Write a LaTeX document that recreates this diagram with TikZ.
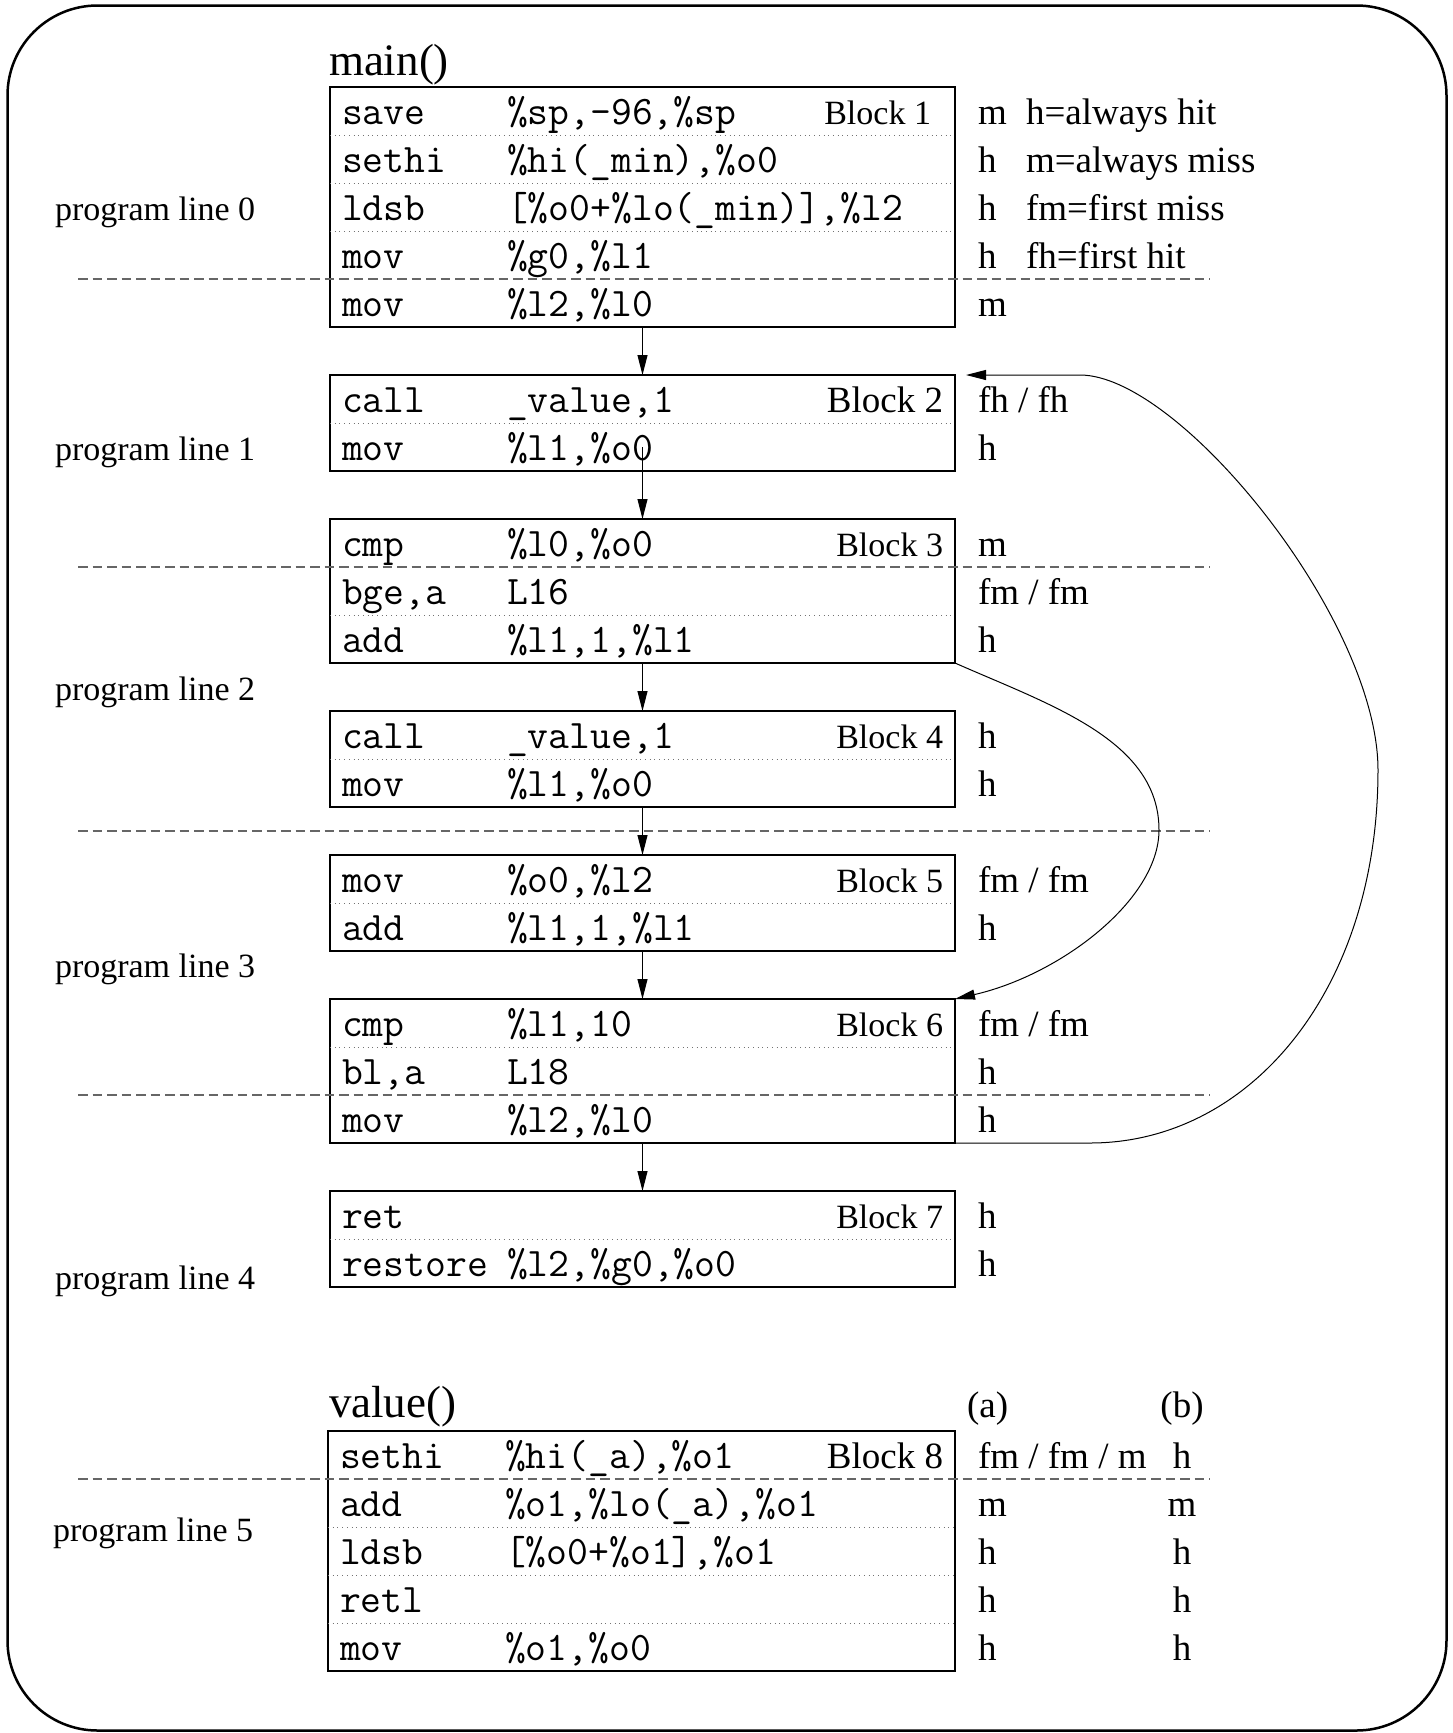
\documentclass[tikz,border=0pt]{standalone}
\usepackage{fontspec}
\setmainfont{Liberation Serif}
\usetikzlibrary{arrows.meta,calc}

% type sizes (picture is drawn at 1pt per unit)
\newcommand\plfont{\fontsize{34}{40}\selectfont}
\newcommand\colfont{\fontsize{37}{44}\selectfont}
\newcommand\titfont{\fontsize{45}{54}\selectfont}
\newcommand\codefont{\ttfamily\fontsize{40.5}{47}\selectfont}

% one instruction: name, x, baseline, opcode, operands
\newcommand\asmrow[5]{%
  \node[opcode] (#1op) at (#2,#3) {#4};
  \node[operand] (#1arg) at (#2+165,#3) {#5};}

\begin{document}
\begin{tikzpicture}[x=1pt,y=-1pt,
  every node/.style={inner sep=0pt,outer sep=0pt},
  blockbox/.style={draw,line width=1.2pt,anchor=north west,minimum width=625pt},
  opcode/.style={anchor=base west,font=\codefont},
  operand/.style={anchor=base west,font=\codefont},
  blocktag/.style={anchor=base east,font=\plfont},
  bigblocktag/.style={anchor=base east,font=\colfont},
  hitlbl/.style={anchor=base west,font=\colfont},
  hitlblc/.style={anchor=base,font=\colfont},
  sidelbl/.style={anchor=base west,font=\plfont},
  fnhead/.style={anchor=base west,font=\titfont},
  rowsep/.style={line width=0.9pt,black!55,dash pattern=on 1pt off 3.7pt},
  linesep/.style={line width=1.4pt,black!60,dash pattern=on 9.5pt off 5pt},
  flowarrow/.style={line width=1pt,-{Triangle[length=20pt,width=10pt]}},
  outerframe/.style={line width=2.5pt,rounded corners=90pt}]

\useasboundingbox (0,0) rectangle (1453,1733);
\draw[outerframe] (7.5,5.5) rectangle (1446.5,1730.5);

% ---------- main() ----------
\node[fnhead] (mainhd) at (329,75) {main()};

\node[blockbox,minimum height=240pt] (b1) at (330,87) {};
\node[blockbox,minimum height=96pt]  (b2) at (330,375) {};
\node[blockbox,minimum height=144pt] (b3) at (330,519) {};
\node[blockbox,minimum height=96pt]  (b4) at (330,711) {};
\node[blockbox,minimum height=96pt]  (b5) at (330,855) {};
\node[blockbox,minimum height=144pt] (b6) at (330,999) {};
\node[blockbox,minimum height=96pt]  (b7) at (330,1191) {};

% dotted separators between instructions
\foreach \k in {1,2,3}
  \draw[rowsep] ($(b1.north west)+(0,48*\k)$) -- ($(b1.north east)+(0,48*\k)$);
\foreach \b in {b2,b4,b5,b7,b6}
  \draw[rowsep] ($(\b.north west)+(0,48)$) -- ($(\b.north east)+(0,48)$);
\draw[rowsep] ($(b3.north west)+(0,96)$) -- ($(b3.north east)+(0,96)$);

% block 1
\asmrow{b1r0}{342}{124}{save}{\%sp,-96,\%sp}
\asmrow{b1r1}{342}{172}{sethi}{\%hi(\_min),\%o0}
\asmrow{b1r2}{342}{220}{ldsb}{[\%o0+\%lo(\_min)],\%l2}
\asmrow{b1r3}{342}{268}{mov}{\%g0,\%l1}
\asmrow{b1r4}{342}{316}{mov}{\%l2,\%l0}
\node[blocktag] (b1tag) at (931,124) {Block 1};

% block 2
\asmrow{b2r0}{342}{412}{call}{\_value,1}
\asmrow{b2r1}{342}{460}{mov}{\%l1,\%o0}
\node[bigblocktag] (b2tag) at (943,412) {Block 2};

% block 3
\asmrow{b3r0}{342}{556}{cmp}{\%l0,\%o0}
\asmrow{b3r1}{342}{604}{bge,a}{L16}
\asmrow{b3r2}{342}{652}{add}{\%l1,1,\%l1}
\node[blocktag] (b3tag) at (943,556) {Block 3};

% block 4
\asmrow{b4r0}{342}{748}{call}{\_value,1}
\asmrow{b4r1}{342}{796}{mov}{\%l1,\%o0}
\node[blocktag] (b4tag) at (943,748) {Block 4};

% block 5
\asmrow{b5r0}{342}{892}{mov}{\%o0,\%l2}
\asmrow{b5r1}{342}{940}{add}{\%l1,1,\%l1}
\node[blocktag] (b5tag) at (943,892) {Block 5};

% block 6
\asmrow{b6r0}{342}{1036}{cmp}{\%l1,10}
\asmrow{b6r1}{342}{1084}{bl,a}{L18}
\asmrow{b6r2}{342}{1132}{mov}{\%l2,\%l0}
\node[blocktag] (b6tag) at (943,1036) {Block 6};

% block 7
\node[opcode] (b7r0op) at (342,1228) {ret};
\asmrow{b7r1}{342}{1276}{restore}{\%l2,\%g0,\%o0}
\node[blocktag] (b7tag) at (943,1228) {Block 7};

% ---------- value() ----------
\node[fnhead] (valuehd) at (329,1417) {value()};
\node[hitlbl] (cola) at (967,1417) {(a)};
\node[hitlblc] (colb) at (1182,1417) {(b)};

\node[blockbox,minimum width=627pt,minimum height=240pt] (b8) at (328,1431) {};
\foreach \k in {2,3,4}
  \draw[rowsep] ($(b8.north west)+(0,48*\k)$) -- ($(b8.north east)+(0,48*\k)$);
\asmrow{b8r0}{340}{1468}{sethi}{\%hi(\_a),\%o1}
\asmrow{b8r1}{340}{1516}{add}{\%o1,\%lo(\_a),\%o1}
\asmrow{b8r2}{340}{1564}{ldsb}{[\%o0+\%o1],\%o1}
\node[opcode] (b8r3op) at (340,1612) {retl};
\asmrow{b8r4}{340}{1660}{mov}{\%o1,\%o0}
\node[bigblocktag] (b8tag) at (943,1468) {Block 8};

% ---------- hit / miss classification ----------
\node[hitlbl] (s10) at (978,124) {m};
\node[hitlbl] (s11) at (978,172) {h};
\node[hitlbl] (s12) at (978,220) {h};
\node[hitlbl] (s13) at (978,268) {h};
\node[hitlbl] (s14) at (978,316) {m};
\node[hitlbl] (key1) at (1026,124) {h=always hit};
\node[hitlbl] (key2) at (1026,172) {m=always miss};
\node[hitlbl] (key3) at (1026,220) {fm=first miss};
\node[hitlbl] (key4) at (1026,268) {fh=first hit};

\node[hitlbl] (s20) at (978,412) {fh / fh};
\node[hitlbl] (s21) at (978,460) {h};
\node[hitlbl] (s30) at (978,556) {m};
\node[hitlbl] (s31) at (978,604) {fm / fm};
\node[hitlbl] (s32) at (978,652) {h};
\node[hitlbl] (s40) at (978,748) {h};
\node[hitlbl] (s41) at (978,796) {h};
\node[hitlbl] (s50) at (978,892) {fm / fm};
\node[hitlbl] (s51) at (978,940) {h};
\node[hitlbl] (s60) at (978,1036) {fm / fm};
\node[hitlbl] (s61) at (978,1084) {h};
\node[hitlbl] (s62) at (978,1132) {h};
\node[hitlbl] (s70) at (978,1228) {h};
\node[hitlbl] (s71) at (978,1276) {h};

\node[hitlbl] (s80a) at (978,1468) {fm / fm / m};
\node[hitlblc] (s80b) at (1182,1468) {h};
\node[hitlbl] (s81a) at (978,1516) {m};
\node[hitlblc] (s81b) at (1182,1516) {m};
\node[hitlbl] (s82a) at (978,1564) {h};
\node[hitlblc] (s82b) at (1182,1564) {h};
\node[hitlbl] (s83a) at (978,1612) {h};
\node[hitlblc] (s83b) at (1182,1612) {h};
\node[hitlbl] (s84a) at (978,1660) {h};
\node[hitlblc] (s84b) at (1182,1660) {h};

% ---------- program lines ----------
\node[sidelbl] (pl0) at (55,220) {program line 0};
\node[sidelbl] (pl1) at (55,460) {program line 1};
\node[sidelbl] (pl2) at (55,700) {program line 2};
\node[sidelbl] (pl3) at (55,977) {program line 3};
\node[sidelbl] (pl4) at (55,1289) {program line 4};
\node[sidelbl] (pl5) at (53,1541) {program line 5};

\foreach \y in {279,567,831,1095,1479}
  \draw[linesep] (78,\y) -- (1210,\y);

% ---------- control flow ----------
\draw[flowarrow] (b1.south) -- (b2.north);
\draw[flowarrow] ($(b2.south)+(0,-24)$) -- (b3.north);
\draw[flowarrow] (b3.south) -- (b4.north);
\draw[flowarrow] (b4.south) -- (b5.north);
\draw[flowarrow] (b5.south) -- (b6.north);
\draw[flowarrow] (b6.south) -- (b7.north);

% taken branch of bge,a
\draw[flowarrow] (b3.south east) .. controls (1050,705) and (1159,740) .. (1159,830)
  .. controls (1159,900) and (1060,975) .. (b6.north east);

% loop back edge of bl,a
\coordinate (b2tip) at ($(b2.north east)+(11,0)$);
\draw[flowarrow] (b6.south east) -- (1090,1143)
  .. controls (1250,1143) and (1378,990) .. (1378,770)
  .. controls (1378,620) and (1180,375) .. (1080,375) -- (b2tip);
\end{tikzpicture}
\end{document}
